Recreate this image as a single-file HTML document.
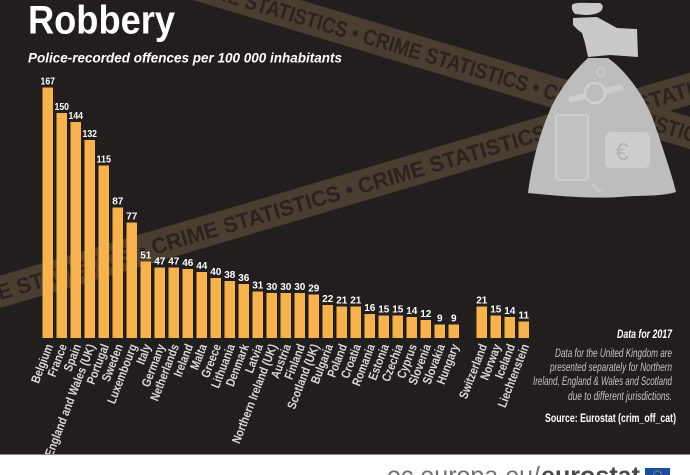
<!DOCTYPE html>
<html>
<head>
<meta charset="utf-8">
<style>
html,body{margin:0;padding:0;background:#231e1e;}
svg{display:block;}
</style>
</head>
<body>
<svg width="690" height="475" viewBox="0 0 690 475" xmlns="http://www.w3.org/2000/svg" font-family="'Liberation Sans', 'DejaVu Sans', sans-serif">
  <rect x="0" y="0" width="690" height="475" fill="#231e1e"/>

  <!-- lower tape (rising to the right) -->
  <g transform="translate(222,226.5) rotate(-16.4)">
    <rect x="-900" y="-15.5" width="1800" height="31" fill="#4a3e30"/>
    <text x="-741" y="8" font-size="22" font-weight="bold" fill="#2a231f" transform="scale(0.97,1)">CRIME STATISTICS • CRIME STATISTICS • CRIME STATISTICS • CRIME STATISTICS • CRIME STATISTICS • CRIME STATISTICS • CRIME STATISTICS •</text>
  </g>
  <!-- upper tape (falling to the right) -->
  <g transform="translate(425,53.5) rotate(16.7)">
    <rect x="-900" y="-15.5" width="1800" height="31" fill="#4a3e30"/>
    <text x="-741" y="8" font-size="22" font-weight="bold" fill="#2a231f" transform="scale(0.85,1)">CRIME STATISTICS • CRIME STATISTICS • CRIME STATISTICS • CRIME STATISTICS • CRIME STATISTICS • CRIME STATISTICS • CRIME STATISTICS •</text>
  </g>

  <!-- money bag -->
  <path d="M588,58 L608,58 C625,70 645,95 655,125 C665,155 672,175 676,192 C660,197 640,195 620,197 C590,199 560,196 528,193 C531,170 537,140 550,110 C560,88 575,70 588,58 Z" fill="#bdbdbd"/>
  <!-- hand -->
  <path d="M572,5 Q574,2 590,3 L600,3 Q605,6 601,11 Q596,15 585,15 L575,14 Q571,10 572,5 Z" fill="#c9c9c9"/>
  <path d="M573,18 L597,17 L617,28 L637,29 L638,57 L610,55 L588,57 L585,43 L582,33 L578,30 L573,25 Z" fill="#c9c9c9"/>
  <!-- bag icons -->
  <circle cx="601" cy="72" r="4" fill="none" stroke="#cfcfcf" stroke-width="1.5"/>
  <path d="M568,97 L622,84 L624,90 L570,103 Z" fill="#cdcdcd"/>
  <circle cx="595" cy="93" r="10" fill="#bdbdbd" stroke="#d0d0d0" stroke-width="2.5"/>
  <rect x="556" y="115" width="32" height="65" rx="3" fill="#c2c2c2" stroke="#d2d2d2" stroke-width="1.6"/>
  <rect x="605" y="132" width="45" height="36" rx="6" fill="#cdcdcd"/>
  <text x="622" y="160" font-size="24" fill="#b3b3b3" text-anchor="middle">€</text>
  <path d="M592,184 L598,190 M596,192 L604,190" stroke="#d0d0d0" stroke-width="1.2" fill="none"/>

  <!-- title -->
  <text x="28" y="33.5" font-size="40" font-weight="bold" fill="#ffffff" textLength="147" lengthAdjust="spacingAndGlyphs">Robbery</text>
  <text x="28" y="62.5" font-size="14" font-weight="bold" font-style="italic" fill="#ffffff" textLength="314" lengthAdjust="spacingAndGlyphs">Police-recorded offences per 100 000 inhabitants</text>

  <!-- bars -->
  <g fill="#f8b24c">
    <rect x="42.5" y="87.5" width="10.5" height="250.5"/>
    <rect x="56.5" y="113" width="10.5" height="225"/>
    <rect x="70.5" y="122" width="10.5" height="216"/>
    <rect x="84.5" y="140" width="10.5" height="198"/>
    <rect x="98.5" y="165.5" width="10.5" height="172.5"/>
    <rect x="112.5" y="207.5" width="10.5" height="130.5"/>
    <rect x="126.5" y="222.5" width="10.5" height="115.5"/>
    <rect x="140.5" y="261.5" width="10.5" height="76.5"/>
    <rect x="154.5" y="267.5" width="10.5" height="70.5"/>
    <rect x="168.5" y="267.5" width="10.5" height="70.5"/>
    <rect x="182.5" y="269" width="10.5" height="69"/>
    <rect x="196.5" y="272" width="10.5" height="66"/>
    <rect x="210.5" y="278" width="10.5" height="60"/>
    <rect x="224.5" y="281" width="10.5" height="57"/>
    <rect x="238.5" y="284" width="10.5" height="54"/>
    <rect x="252.5" y="291.5" width="10.5" height="46.5"/>
    <rect x="266.5" y="293" width="10.5" height="45"/>
    <rect x="280.5" y="293" width="10.5" height="45"/>
    <rect x="294.5" y="293" width="10.5" height="45"/>
    <rect x="308.5" y="294.5" width="10.5" height="43.5"/>
    <rect x="322.5" y="305" width="10.5" height="33"/>
    <rect x="336.5" y="306.5" width="10.5" height="31.5"/>
    <rect x="350.5" y="306.5" width="10.5" height="31.5"/>
    <rect x="364.5" y="314" width="10.5" height="24"/>
    <rect x="378.5" y="315.5" width="10.5" height="22.5"/>
    <rect x="392.5" y="315.5" width="10.5" height="22.5"/>
    <rect x="406.5" y="317" width="10.5" height="21"/>
    <rect x="420.5" y="320" width="10.5" height="18"/>
    <rect x="434.5" y="324.5" width="10.5" height="13.5"/>
    <rect x="448.5" y="324.5" width="10.5" height="13.5"/>
    <rect x="476.5" y="306.5" width="10.5" height="31.5"/>
    <rect x="490.5" y="315.5" width="10.5" height="22.5"/>
    <rect x="504.5" y="317" width="10.5" height="21"/>
    <rect x="518.5" y="321.5" width="10.5" height="16.5"/>
  </g>

  <!-- value labels -->
  <g font-size="10" font-weight="bold" fill="#ffffff" text-anchor="middle">
    <text x="47.75" y="84.5" textLength="14.5" lengthAdjust="spacingAndGlyphs">167</text>
    <text x="61.75" y="110" textLength="14.5" lengthAdjust="spacingAndGlyphs">150</text>
    <text x="75.75" y="119" textLength="14.5" lengthAdjust="spacingAndGlyphs">144</text>
    <text x="89.75" y="137" textLength="14.5" lengthAdjust="spacingAndGlyphs">132</text>
    <text x="103.75" y="162.5" textLength="14.5" lengthAdjust="spacingAndGlyphs">115</text>
    <text x="117.75" y="204.5">87</text>
    <text x="131.75" y="219.5">77</text>
    <text x="145.75" y="258.5">51</text>
    <text x="159.75" y="264.5">47</text>
    <text x="173.75" y="264.5">47</text>
    <text x="187.75" y="266">46</text>
    <text x="201.75" y="269">44</text>
    <text x="215.75" y="275">40</text>
    <text x="229.75" y="278">38</text>
    <text x="243.75" y="281">36</text>
    <text x="257.75" y="288.5">31</text>
    <text x="271.75" y="290">30</text>
    <text x="285.75" y="290">30</text>
    <text x="299.75" y="290">30</text>
    <text x="313.75" y="291.5">29</text>
    <text x="327.75" y="302">22</text>
    <text x="341.75" y="303.5">21</text>
    <text x="355.75" y="303.5">21</text>
    <text x="369.75" y="311">16</text>
    <text x="383.75" y="312.5">15</text>
    <text x="397.75" y="312.5">15</text>
    <text x="411.75" y="314">14</text>
    <text x="425.75" y="317">12</text>
    <text x="439.75" y="321.5">9</text>
    <text x="453.75" y="321.5">9</text>
    <text x="481.75" y="303.5">21</text>
    <text x="495.75" y="312.5">15</text>
    <text x="509.75" y="314">14</text>
    <text x="523.75" y="318.5">11</text>
  </g>

  <!-- category labels -->
  <g font-size="12.5" font-weight="bold" fill="#d9d9d9" text-anchor="end">
    <text transform="translate(53.25,346) rotate(-69) scale(0.83,1)">Belgium</text>
    <text transform="translate(67.25,346) rotate(-69) scale(0.83,1)">France</text>
    <text transform="translate(81.25,346) rotate(-69) scale(0.83,1)">Spain</text>
    <text transform="translate(95.25,346) rotate(-69) scale(0.83,1)">England and Wales (UK)</text>
    <text transform="translate(109.25,346) rotate(-69) scale(0.83,1)">Portugal</text>
    <text transform="translate(123.25,346) rotate(-69) scale(0.83,1)">Sweden</text>
    <text transform="translate(137.25,346) rotate(-69) scale(0.83,1)">Luxembourg</text>
    <text transform="translate(151.25,346) rotate(-69) scale(0.83,1)">Italy</text>
    <text transform="translate(165.25,346) rotate(-69) scale(0.83,1)">Germany</text>
    <text transform="translate(179.25,346) rotate(-69) scale(0.83,1)">Netherlands</text>
    <text transform="translate(193.25,346) rotate(-69) scale(0.83,1)">Ireland</text>
    <text transform="translate(207.25,346) rotate(-69) scale(0.83,1)">Malta</text>
    <text transform="translate(221.25,346) rotate(-69) scale(0.83,1)">Greece</text>
    <text transform="translate(235.25,346) rotate(-69) scale(0.83,1)">Lithuania</text>
    <text transform="translate(249.25,346) rotate(-69) scale(0.83,1)">Denmark</text>
    <text transform="translate(263.25,346) rotate(-69) scale(0.83,1)">Latvia</text>
    <text transform="translate(277.25,346) rotate(-69) scale(0.83,1)">Northern Ireland (UK)</text>
    <text transform="translate(291.25,346) rotate(-69) scale(0.83,1)">Austria</text>
    <text transform="translate(305.25,346) rotate(-69) scale(0.83,1)">Finland</text>
    <text transform="translate(319.25,346) rotate(-69) scale(0.83,1)">Scotland (UK)</text>
    <text transform="translate(333.25,346) rotate(-69) scale(0.83,1)">Bulgaria</text>
    <text transform="translate(347.25,346) rotate(-69) scale(0.83,1)">Poland</text>
    <text transform="translate(361.25,346) rotate(-69) scale(0.83,1)">Croatia</text>
    <text transform="translate(375.25,346) rotate(-69) scale(0.83,1)">Romania</text>
    <text transform="translate(389.25,346) rotate(-69) scale(0.83,1)">Estonia</text>
    <text transform="translate(403.25,346) rotate(-69) scale(0.83,1)">Czechia</text>
    <text transform="translate(417.25,346) rotate(-69) scale(0.83,1)">Cyprus</text>
    <text transform="translate(431.25,346) rotate(-69) scale(0.83,1)">Slovenia</text>
    <text transform="translate(445.25,346) rotate(-69) scale(0.83,1)">Slovakia</text>
    <text transform="translate(459.25,346) rotate(-69) scale(0.83,1)">Hungary</text>
    <text transform="translate(487.25,346) rotate(-69) scale(0.83,1)">Switzerland</text>
    <text transform="translate(501.25,346) rotate(-69) scale(0.83,1)">Norway</text>
    <text transform="translate(515.25,346) rotate(-69) scale(0.83,1)">Iceland</text>
    <text transform="translate(529.25,346) rotate(-69) scale(0.83,1)">Liechtenstein</text>
  </g>

  <!-- notes -->
  <text x="617" y="338" font-size="12" font-weight="bold" font-style="italic" fill="#ffffff" textLength="55" lengthAdjust="spacingAndGlyphs">Data for 2017</text>
  <g font-size="11.5" font-style="italic" fill="#c4c4c4">
    <text x="555" y="357" textLength="117" lengthAdjust="spacingAndGlyphs">Data for the United Kingdom are</text>
    <text x="550" y="371" textLength="122" lengthAdjust="spacingAndGlyphs">presented separately for Northern</text>
    <text x="533" y="385" textLength="139" lengthAdjust="spacingAndGlyphs">Ireland, England &amp; Wales and Scotland</text>
    <text x="568" y="400" textLength="104" lengthAdjust="spacingAndGlyphs">due to different jurisdictions.</text>
  </g>
  <text x="545" y="422" font-size="12" font-weight="bold" fill="#ffffff" textLength="131" lengthAdjust="spacingAndGlyphs">Source: Eurostat (crim_off_cat)</text>

  <!-- footer -->
  <rect x="0" y="454" width="690" height="21" fill="#ffffff"/>
  <rect x="0" y="454" width="690" height="1" fill="#8a8a8a"/>
  <text x="387" y="484" font-size="25" fill="#6e6e6e" textLength="153" lengthAdjust="spacingAndGlyphs">ec.europa.eu/</text>
  <text x="541" y="484" font-size="25" font-weight="bold" fill="#4a4a4a" textLength="99" lengthAdjust="spacingAndGlyphs">eurostat</text>
  <rect x="645" y="468" width="25" height="8" fill="#1f4ea1"/>
  <circle cx="657.5" cy="475" r="4" fill="none" stroke="#ffd94a" stroke-width="0.8" stroke-dasharray="1 1.2"/>
</svg>
</body>
</html>
